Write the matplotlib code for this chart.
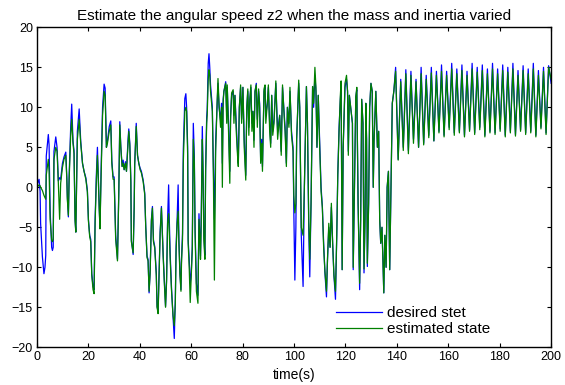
import numpy as np
import matplotlib
matplotlib.use("Agg")
import matplotlib.pyplot as plt

plt.rcParams["font.family"] = ["Liberation Sans", "DejaVu Sans"]

# ---- data (time in s, angular speed z2) ----
t_early = [
    0.0, 0.8, 1.2, 1.4, 2.1, 2.7, 3.1, 3.4, 3.6, 4.4,
    4.7, 5.1, 5.7, 6.0, 6.3, 6.6, 7.3, 7.8, 8.3, 8.8,
    9.2, 9.9, 10.5, 11.2, 11.6, 11.8, 12.2, 12.5, 13.1, 13.5,
    14.0, 14.4, 14.8, 15.1, 15.7, 16.4, 17.0, 17.7, 18.3, 19.0,
    19.6, 20.0, 20.5, 20.9, 21.3, 21.8, 22.2, 22.6, 23.1, 23.5,
    23.9, 24.2, 24.5, 24.9, 25.5, 26.1, 26.5, 27.0, 27.4, 28.1,
    28.7, 29.1, 29.6, 30.0, 30.6, 31.3, 31.8, 32.2, 32.6, 33.1,
    33.5, 33.9, 34.4, 34.8, 35.4, 35.7, 36.1, 36.5, 36.7, 37.4,
    37.8, 38.0, 38.6, 39.1, 39.6, 40.1, 40.6, 41.3, 41.9, 42.3,
    42.8, 43.2, 43.6, 44.0, 44.5, 44.9, 45.3, 45.8, 46.4, 46.7,
    47.1, 47.5, 47.9, 48.4, 49.1, 49.5, 50.0, 50.4, 50.8, 51.2,
    51.4, 51.8, 52.3, 52.9, 53.4, 53.8, 54.1, 54.5, 54.9, 55.2,
    55.6, 56.0, 56.2, 56.6, 56.9, 57.3, 57.5, 57.9, 58.2, 58.6,
    58.8, 59.2, 59.6, 60.0, 60.4, 60.8, 61.2,
]
desired_early = [
    0.3, 1.0, -0.5, -4.5, -8.7, -10.8, -10.0, -8.5, 3.9, 6.6,
    5.3, -2.9, -7.5, -7.9, -7.5, 4.5, 6.3, 5.0, 0.8, 1.2,
    1.0, 3.0, 3.8, 4.4, 1.2, -1.2, -3.7, 1.5, 7.5, 10.4,
    5.8, 4.6, -4.0, -5.6, 7.0, 9.8, 5.8, 3.0, 2.0, 1.2,
    -0.4, -4.0, -6.0, -6.5, -10.8, -12.4, -12.8, -4.0, 1.7, 5.0,
    0.8, -2.5, -5.0, 1.7, 10.0, 12.9, 12.4, 5.0, 5.8, 7.6,
    8.3, 3.3, 1.3, 1.3, -6.0, -9.0, -0.7, 8.2, 5.1, 2.6,
    3.4, 2.2, 3.2, 2.0, 5.9, 7.3, 5.5, 0.9, -6.6, -8.4,
    -2.4, 3.0, 8.0, 4.0, 3.0, 2.4, 2.0, 0.9, -0.7, -4.9,
    -8.6, -9.0, -13.2, -10.5, -4.0, -2.4, -6.6, -7.4, -10.7, -14.9,
    -15.5, -10.5, -5.5, -2.4, -8.6, -11.5, -14.9, -11.5, -4.0, 0.3,
    -3.3, -8.3, -12.4, -16.1, -18.9, -14.0, -7.4, -4.0, 0.3, -6.6,
    -10.7, -12.8, -9.0, -5.8, 4.6, 8.8, 11.1, 11.7, 10.0, 5.1,
    -6.6, -9.0, -12.0, -10.7, -7.4, 8.0, 3.8,
]
estimated_early = [
    0.0, 0.3, 0.2, 0.0, -0.4, -1.0, -1.3, -1.5, 1.5, 3.5,
    2.0, -4.0, -6.6, -6.8, -6.5, 3.5, 5.0, 4.5, 0.5, -4.0,
    0.5, 2.5, 3.5, 4.0, 1.0, -1.5, -3.5, 1.0, 6.5, 8.5,
    5.5, 4.2, -4.2, -5.6, 6.0, 8.5, 5.5, 3.0, 2.0, 1.0,
    -0.6, -4.2, -6.2, -6.8, -11.0, -12.8, -13.3, -4.5, 1.0, 4.0,
    0.5, -2.8, -5.2, 1.0, 9.0, 12.0, 11.5, 5.0, 5.5, 7.0,
    7.8, 3.0, 1.0, 1.0, -6.5, -9.2, -1.0, 7.8, 5.0, 2.6,
    3.0, 2.2, 3.0, 2.0, 5.5, 7.0, 5.2, 0.6, -6.8, -8.2,
    -2.6, 2.8, 7.6, 4.0, 3.0, 2.2, 1.8, 0.7, -0.9, -5.0,
    -8.8, -9.2, -13.0, -10.8, -4.2, -2.6, -6.8, -7.6, -11.0, -15.0,
    -15.8, -10.8, -5.8, -2.6, -8.8, -11.8, -15.0, -11.8, -4.5, -3.3,
    -5.0, -9.0, -12.8, -16.0, -17.3, -14.5, -8.0, -4.5, -3.0, -7.0,
    -11.0, -13.0, -9.5, -6.5, 3.0, 7.5, 9.5, 10.0, 9.5, 4.0,
    -7.0, -10.0, -14.4, -11.0, -7.8, 6.0, 3.0,
]

t_mid = [
    61.5, 62.0, 62.6, 63.0, 63.4, 63.6, 63.9, 64.3, 64.6, 64.9,
    65.3, 65.6, 66.0, 66.2, 66.6, 66.9, 67.2, 67.5, 68.2, 68.6,
    69.0, 69.5, 70.1, 70.4, 70.8, 71.4, 71.8, 72.1, 72.4, 72.7,
    73.4, 73.8, 74.0, 74.5, 75.0, 75.3, 75.7, 76.3, 76.6, 77.0,
    77.5, 78.0, 78.3, 78.7, 79.2, 79.6, 80.1, 80.6, 81.2, 81.6,
    82.0, 82.4, 82.8, 83.2, 83.6, 84.0, 84.4, 84.8, 85.3, 85.7,
    86.2, 86.6, 87.0, 87.4, 87.7, 88.3, 88.7, 89.0, 89.6, 90.0,
    90.5, 90.9, 91.3, 91.7, 92.2, 92.9, 93.6, 94.4, 95.0, 95.5,
    96.2, 96.5, 97.0, 97.4, 98.0, 98.4, 99.0, 99.6, 99.9, 100.3,
    100.7, 101.0, 101.8, 102.2, 102.8, 103.5, 104.0, 104.8, 105.2, 105.7,
    106.1, 106.6, 107.2, 107.6, 108.1, 108.5, 108.9, 109.4, 110.0, 110.5,
    111.0, 111.5, 112.0, 112.6, 113.0, 113.5, 114.0, 114.5, 115.0, 115.5,
    116.1, 116.6, 117.0, 117.5, 118.0, 118.3, 118.7, 119.1, 119.8, 120.4,
    120.8, 121.1, 121.5, 122.0, 122.7, 123.0, 123.5, 124.0, 124.4, 124.9,
    125.5, 125.9, 126.3, 126.8, 127.2, 127.6, 127.9, 128.2, 128.5, 129.0,
    129.4, 129.9, 130.4, 130.8, 131.1, 131.8, 132.4, 132.9, 133.3, 133.7,
    134.2, 134.9, 135.3, 135.8, 136.2, 136.7, 137.2, 137.6, 138.2, 138.8,
]
desired_mid = [
    -5.3, -12.0, -13.5, -3.3, -6.6, -8.6, -3.3, 7.6, 2.0, -6.0,
    -8.5, 2.6, 8.8, 9.7, 15.5, 16.7, 15.0, 12.8, 10.0, 2.6,
    -4.0, 5.9, 10.5, 13.0, 10.0, 8.4, 10.5, 3.0, 11.0, 12.0,
    13.2, 9.0, 12.5, 8.0, 2.0, 9.0, 11.5, 12.0, 9.0, 11.5,
    8.0, 4.5, 3.0, 10.0, 12.5, 8.5, 12.5, 6.0, 1.5, 10.0,
    12.0, 7.5, 11.0, 12.5, 8.0, 9.5, 5.9, 12.0, 13.0, 8.5,
    12.0, 10.5, 3.4, 6.0, 2.6, 12.0, 12.5, 9.0, 10.5, 12.5,
    8.0, 5.5, 11.5, 7.0, 8.5, 13.0, 7.0, 9.0, 4.5, 12.5,
    9.0, 7.5, 3.0, 10.0, 8.0, 12.0, 7.0, 5.0, -3.0, -11.6,
    -5.0, 6.0, 13.0, 10.0, -6.0, -12.4, 0.0, 12.6, 8.0, -5.0,
    -11.2, -2.0, 12.6, 10.0, 14.0, 12.0, 5.0, 11.5, 5.0, 0.0,
    -2.4, -7.0, -10.7, -13.7, -9.0, -5.0, -7.5, -2.5, -7.0, -11.0,
    -14.0, -6.0, 1.7, 7.5, 11.0, 12.5, -10.3, 5.0, 12.5, 13.5,
    12.0, 4.5, 11.5, 10.0, 8.0, -10.3, 0.0, 11.3, 12.2, -2.0,
    -12.8, -4.0, 11.0, 8.0, -10.7, -4.0, 10.5, 6.0, -9.9, -2.0,
    10.0, 13.0, 12.0, 0.0, 5.8, 12.0, 5.0, 7.0, -4.0, -7.0,
    -5.0, -13.2, -6.0, -10.0, 0.0, 2.0, -10.3, -2.0, 10.5, 12.0,
]
estimated_mid = [
    -6.0, -13.0, -14.5, -4.0, -7.0, -9.0, -4.0, 6.0, 1.5, -6.5,
    -9.0, 2.0, 8.0, 9.0, 13.5, 14.7, 14.0, 12.0, 9.5, 2.0,
    -11.6, 4.5, 11.0, 13.6, 10.5, 7.5, 10.0, 0.0, 10.5, 12.0,
    13.0, 8.0, 12.8, 7.0, 0.5, 8.5, 11.8, 12.2, 8.0, 11.5,
    7.0, 4.0, 2.6, 10.0, 12.8, 8.0, 12.5, 5.0, 0.9, 10.0,
    12.3, 6.5, 11.0, 12.8, 7.0, 9.5, 5.0, 12.0, 12.8, 7.5,
    12.3, 10.0, 3.0, 5.5, 2.0, 12.3, 12.8, 8.0, 10.5, 12.8,
    7.0, 5.0, 11.5, 6.5, 8.0, 13.3, 6.0, 9.0, 4.0, 12.8,
    8.5, 7.0, 2.6, 10.0, 7.5, 12.5, 6.5, 4.5, -1.0, -3.2,
    -2.0, 6.0, 13.4, 10.0, -5.0, -6.0, 0.0, 12.6, 8.0, -4.0,
    -9.0, -2.0, 12.6, 10.5, 15.0, 12.5, 5.0, 11.5, 4.5, -0.5,
    -2.6, -7.5, -10.5, -13.0, -9.0, -4.5, -7.5, -2.0, -7.0, -11.0,
    -13.0, -6.0, 1.5, 7.0, 11.5, 13.3, -10.3, 5.0, 13.0, 14.0,
    12.0, 4.0, 11.5, 10.0, 8.0, -10.0, 0.5, 11.3, 12.5, -2.0,
    -12.0, -4.0, 11.0, 8.0, -10.2, -4.0, 10.5, 6.0, -9.5, -2.0,
    10.0, 13.0, 12.0, 0.0, 5.8, 12.0, 5.0, 7.0, -4.0, -7.0,
    -5.0, -13.2, -6.0, -10.0, 0.0, 2.0, -10.3, -2.0, 10.5, 12.0,
]

# steady oscillation after t = 139.5 s, one sample per half swing
t_late = np.linspace(139.5, 200.0, 62)
desired_late = [
    15.0, 3.5, 13.5, 5.0, 14.7, 4.6, 14.5, 6.0, 13.5, 5.0,
    15.0, 5.5, 14.0, 6.5, 15.0, 5.8, 14.5, 7.0, 15.3, 6.5,
    14.5, 7.5, 15.5, 6.8, 14.8, 7.0, 15.3, 6.5, 14.5, 7.2,
    15.5, 6.8, 15.0, 7.5, 15.3, 6.5, 14.8, 7.0, 15.5, 6.8,
    14.8, 7.3, 15.3, 6.5, 15.0, 7.0, 15.5, 6.6, 14.6, 7.2,
    15.2, 6.8, 14.8, 7.0, 15.5, 6.5, 14.6, 7.5, 15.0, 6.8,
    15.2, 13.0,
]
estimated_late = [
    14.5, 3.4, 13.2, 4.6, 14.2, 4.2, 14.0, 5.5, 13.2, 5.0,
    14.2, 5.3, 13.5, 6.2, 14.3, 5.8, 14.0, 6.8, 14.5, 6.3,
    14.0, 7.2, 14.8, 6.5, 14.2, 6.8, 14.6, 6.3, 14.0, 7.0,
    14.8, 6.6, 14.4, 7.2, 14.6, 6.3, 14.2, 6.8, 14.8, 6.6,
    14.2, 7.0, 14.6, 6.3, 14.4, 6.8, 14.8, 6.4, 14.0, 7.0,
    14.6, 6.6, 14.2, 6.8, 14.8, 6.3, 14.0, 7.3, 14.5, 6.6,
    15.0, 13.5,
]

t = np.concatenate([t_early, t_mid, t_late])
z_desired = np.concatenate([desired_early, desired_mid, desired_late])
z_estimated = np.concatenate([estimated_early, estimated_mid, estimated_late])

fig = plt.figure(figsize=(5.65, 3.85), dpi=100)
ax = fig.add_axes([0.0655, 0.098, 0.91, 0.831])

ax.plot(t, z_desired, color="#0000ff", linewidth=0.9, label="desired stet")
ax.plot(t, z_estimated, color="#008000", linewidth=0.9, label="estimated state")

ax.set_xlim(0, 200)
ax.set_ylim(-20, 20)
ax.set_xticks(np.arange(0, 201, 20))
ax.set_yticks(np.arange(-20, 21, 5))
ax.tick_params(direction="in", top=True, right=True, length=3, width=0.8,
               labelsize=9, pad=3)
for sp in ax.spines.values():
    sp.set_linewidth(1.0)

ax.set_title("Estimate the angular speed z2 when the mass and inertia varied",
             fontsize=11, pad=5)
ax.set_xlabel("time(s)", fontsize=10, labelpad=3)

ax.legend(loc="lower left", bbox_to_anchor=(0.567, 0.01), frameon=False,
          fontsize=11, handlelength=3.0, handletextpad=0.3,
          borderpad=0, labelspacing=0.15)

fig.savefig("out.png", dpi=100)
